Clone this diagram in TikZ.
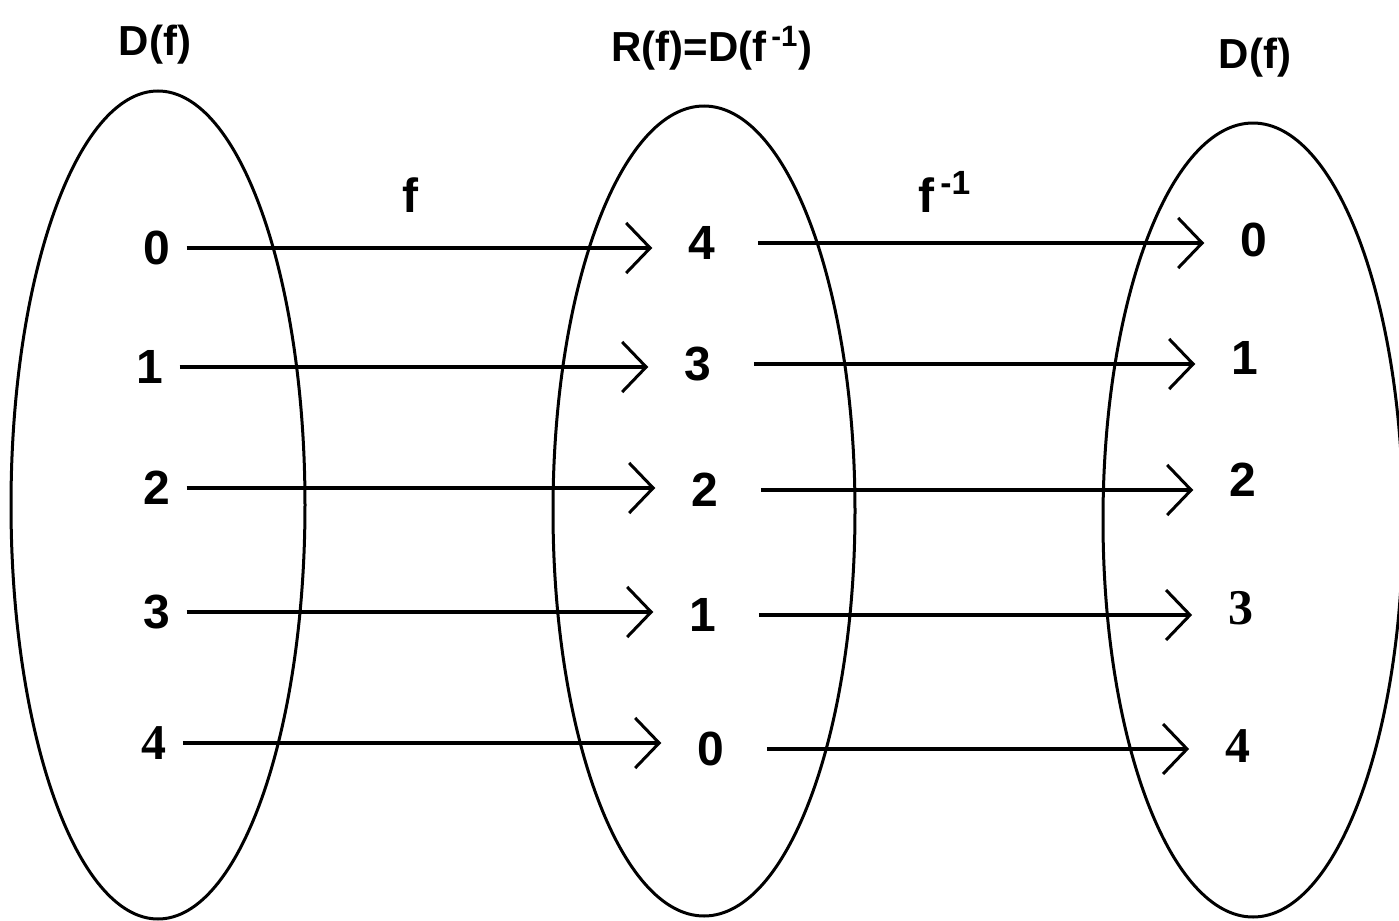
\documentclass[tikz,border=0pt]{standalone}
\usepackage{fontspec}
\setmainfont{Liberation Sans}
\newfontfamily\serifdigits{Liberation Serif}
\usetikzlibrary{arrows.meta}
\tikzset{
  setbox/.style={line width=1.5pt},
  digit/.style={font=\bfseries\fontsize{24}{24}\selectfont, inner sep=8pt},
  serifdigit/.style={digit, font=\serifdigits\bfseries\fontsize{25}{25}\selectfont},
  setname/.style={font=\bfseries\fontsize{21}{21}\selectfont},
  maplabel/.style={font=\bfseries\fontsize{24}{24}\selectfont},
  fmap/.style={line width=1.6pt, shorten >=10pt,
    -{Straight Barb[length=12pt,width=25pt,line width=1.5pt]}},
  invmap/.style={fmap, shorten <=13pt},
}
\begin{document}
\begin{tikzpicture}[x=0.5pt,y=-0.5pt]
  \useasboundingbox (0,0) rectangle (1399,921);
  % Sets
  \draw[setbox] (158,505) ellipse [x radius=147, y radius=414];
  \draw[setbox] (704,511) ellipse [x radius=151, y radius=405];
  \draw[setbox] (1253,520) ellipse [x radius=150, y radius=397];
  \node[setname] (dleft) at (155,45) {D(f)};
  \node[setname] (rmid) at (712,48) {R(f)=D(f\textsuperscript{\,-1})};
  \node[setname] (dright) at (1255,58) {D(f)};
  % Domain of f
  \node[digit] (l0) at (157,248) {0};
  \node[digit] (l1) at (150,367) {1};
  \node[digit] (l2) at (157,488) {2};
  \node[digit] (l3) at (157,612) {3};
  \node[serifdigit] (l4) at (154,743) {4};
  % Range of f
  \node[digit] (m4) at (702,243) {4};
  \node[digit] (m3) at (698,364) {3};
  \node[digit] (m2) at (705,490) {2};
  \node[digit] (m1) at (703,615) {1};
  \node[digit] (m0) at (711,749) {0};
  % Range of the inverse
  \node[digit] (r0) at (1254,240) {0};
  \node[digit] (r1) at (1245,358) {1};
  \node[digit] (r2) at (1243,480) {2};
  \node[serifdigit] (r3) at (1241,608) {3};
  \node[serifdigit] (r4) at (1238,746) {4};
  % Maps
  \node[maplabel] (flabel) at (410,195) {f};
  \node[maplabel] (finvlabel) at (945,192) {f\textsuperscript{\,-1}};
  \draw[fmap] (l0.east) -- (l0.east -| m4.west);
  \draw[fmap] (l1.east) -- (l1.east -| m3.west);
  \draw[fmap] (l2.east) -- (l2.east -| m2.west);
  \draw[fmap] (l3.east) -- (l3.east -| m1.west);
  \draw[fmap] (l4.east) -- (l4.east -| m0.west);
  \draw[invmap] (m4.east) -- (m4.east -| r0.west);
  \draw[invmap] (m3.east) -- (m3.east -| r1.west);
  \draw[invmap] (m2.east) -- (m2.east -| r2.west);
  \draw[invmap] (m1.east) -- (m1.east -| r3.west);
  \draw[invmap] (m0.east) -- (m0.east -| r4.west);
\end{tikzpicture}
\end{document}
